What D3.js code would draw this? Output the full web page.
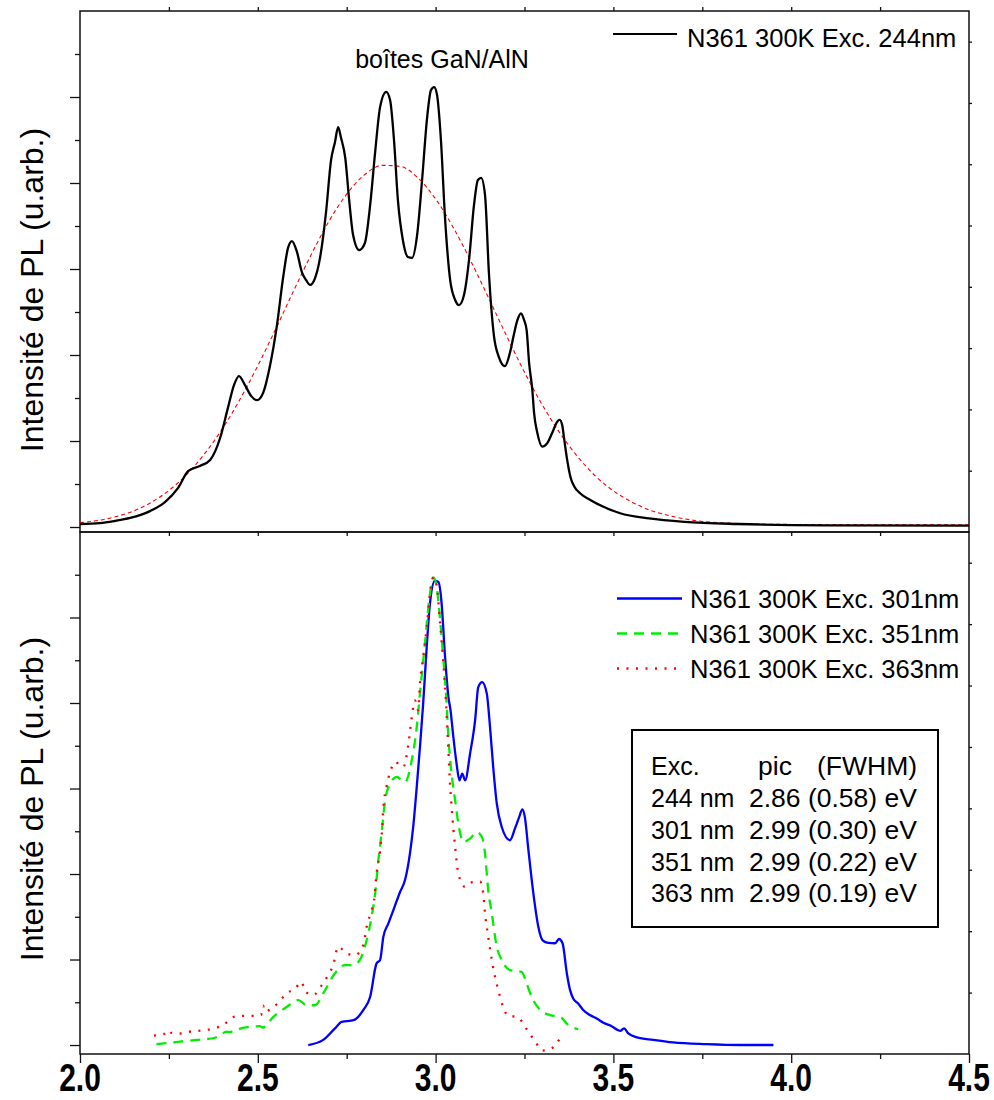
<!DOCTYPE html>
<html><head><meta charset="utf-8">
<script src="https://cdn.jsdelivr.net/npm/d3@7"></script>
<style>
body{margin:0;background:#fff}
svg{display:block}
text{font-family:"Liberation Sans",Arial,sans-serif;fill:#000}
</style>
</head><body>
<svg id="c" width="994" height="1100"></svg>
<script>
// ---------- data ----------
const xTicks = [2.0, 2.5, 3.0, 3.5, 4.0, 4.5];
const xTickLabels = ["2.0", "2.5", "3.0", "3.5", "4.0", "4.5"];
const yAxisLabel = "Intensité de PL (u.arb.)";
const topAnnotation = "boîtes GaN/AlN";
const topLegend = ["N361 300K Exc. 244nm"];
const bottomLegend = ["N361 300K Exc. 301nm", "N361 300K Exc. 351nm", "N361 300K Exc. 363nm"];
const tableHeader = ["Exc.", "pic", "(FWHM)"];
const tableExc = ["244 nm", "301 nm", "351 nm", "363 nm"];
const tablePeak = ["2.86 (0.58) eV", "2.99 (0.30) eV", "2.99 (0.22) eV", "2.99 (0.19) eV"];

// top panel: excitation 244 nm (energy eV, intensity a.u.)
const exc244 = [[2.000,0.07],[2.056,0.09],[2.098,0.14],[2.141,0.21],[2.197,0.37],[2.239,0.58],[2.276,0.91],[2.304,1.30],[2.337,1.42],[2.366,1.56],[2.394,2.07],[2.416,2.77],[2.433,3.30],[2.447,3.51],[2.464,3.30],[2.481,3.05],[2.498,2.95],[2.515,3.12],[2.534,3.74],[2.554,4.70],[2.571,5.79],[2.585,6.49],[2.596,6.65],[2.610,6.40],[2.624,5.93],[2.636,5.74],[2.647,5.63],[2.661,5.79],[2.675,6.26],[2.692,7.33],[2.706,8.53],[2.717,8.95],[2.726,9.30],[2.734,9.05],[2.746,8.58],[2.757,7.60],[2.768,6.79],[2.785,6.44],[2.801,6.60],[2.816,7.49],[2.830,8.72],[2.844,9.77],[2.861,10.12],[2.872,9.93],[2.883,9.00],[2.894,7.60],[2.908,6.67],[2.922,6.28],[2.934,6.26],[2.948,6.79],[2.962,8.07],[2.976,9.51],[2.987,10.16],[2.996,10.23],[3.004,10.05],[3.015,9.00],[3.026,7.26],[3.041,5.74],[3.055,5.28],[3.066,5.16],[3.080,5.40],[3.094,6.21],[3.108,7.49],[3.119,8.07],[3.128,8.12],[3.139,7.72],[3.150,5.90],[3.164,4.45],[3.178,3.95],[3.195,3.74],[3.209,4.05],[3.220,4.47],[3.230,4.81],[3.240,4.97],[3.249,4.81],[3.256,4.58],[3.263,3.81],[3.272,3.19],[3.277,2.65],[3.286,2.19],[3.300,1.87],[3.314,1.95],[3.328,2.19],[3.342,2.45],[3.349,2.49],[3.356,2.37],[3.362,2.02],[3.370,1.56],[3.379,1.17],[3.390,0.94],[3.407,0.78],[3.435,0.63],[3.472,0.47],[3.519,0.32],[3.600,0.20],[3.700,0.12],[3.850,0.07],[4.100,0.04],[4.500,0.03]];

// top panel: gaussian fit drawn in red dashes
const fit244 = [[2.00,0.10],[2.05,0.15],[2.10,0.24],[2.15,0.37],[2.20,0.57],[2.25,0.85],[2.30,1.22],[2.35,1.70],[2.40,2.28],[2.45,2.97],[2.50,3.75],[2.55,4.60],[2.60,5.48],[2.65,6.33],[2.70,7.11],[2.75,7.74],[2.80,8.19],[2.85,8.41],[2.90,8.39],[2.95,8.12],[3.00,7.63],[3.05,6.96],[3.10,6.17],[3.15,5.31],[3.20,4.44],[3.25,3.60],[3.30,2.84],[3.35,2.18],[3.40,1.63],[3.45,1.18],[3.50,0.84],[3.55,0.59],[3.60,0.40],[3.65,0.28],[3.70,0.19],[3.75,0.13],[3.80,0.10],[3.90,0.07],[4.00,0.06],[4.25,0.05],[4.50,0.05]];

// bottom panel
const exc301 = [[2.642,0.00],[2.684,0.12],[2.717,0.39],[2.736,0.54],[2.769,0.58],[2.797,0.82],[2.816,1.13],[2.834,1.91],[2.844,1.99],[2.853,2.53],[2.867,2.84],[2.881,3.15],[2.900,3.58],[2.914,3.86],[2.928,4.49],[2.937,5.10],[2.947,6.04],[2.956,6.97],[2.965,7.98],[2.975,9.31],[2.984,10.32],[2.998,10.86],[3.008,10.83],[3.017,10.32],[3.026,9.15],[3.036,8.14],[3.042,7.83],[3.050,7.20],[3.059,6.58],[3.067,6.19],[3.075,6.35],[3.083,6.19],[3.097,6.82],[3.111,7.59],[3.120,8.37],[3.131,8.49],[3.144,8.22],[3.153,7.44],[3.162,6.50],[3.172,5.65],[3.186,5.10],[3.209,4.79],[3.223,5.06],[3.235,5.33],[3.244,5.51],[3.251,5.33],[3.261,4.56],[3.275,3.54],[3.289,2.76],[3.301,2.45],[3.317,2.39],[3.336,2.38],[3.347,2.48],[3.357,2.38],[3.369,1.68],[3.378,1.29],[3.387,1.09],[3.401,0.97],[3.415,0.82],[3.434,0.70],[3.453,0.62],[3.472,0.52],[3.495,0.44],[3.519,0.33],[3.530,0.39],[3.542,0.27],[3.566,0.18],[3.612,0.12],[3.668,0.06],[3.762,0.02],[3.856,0.00],[3.950,0.00]];

const exc351 = [[2.215,0.02],[2.281,0.08],[2.328,0.12],[2.380,0.17],[2.413,0.31],[2.419,0.30],[2.458,0.40],[2.506,0.44],[2.514,0.41],[2.544,0.66],[2.581,0.89],[2.614,1.05],[2.638,0.93],[2.661,0.93],[2.684,1.21],[2.717,1.68],[2.745,1.87],[2.769,1.87],[2.787,1.99],[2.806,2.45],[2.820,3.00],[2.830,3.54],[2.839,4.32],[2.848,4.95],[2.858,5.72],[2.872,6.11],[2.891,6.27],[2.905,6.19],[2.914,6.15],[2.933,6.66],[2.947,7.44],[2.956,8.22],[2.970,9.39],[2.984,10.55],[2.994,10.94],[3.003,10.71],[3.012,10.01],[3.022,9.00],[3.031,7.98],[3.036,7.20],[3.043,6.50],[3.055,5.72],[3.064,5.18],[3.078,4.75],[3.097,4.83],[3.116,4.98],[3.130,4.87],[3.139,4.48],[3.148,3.62],[3.158,3.08],[3.172,2.30],[3.186,1.99],[3.209,1.75],[3.242,1.71],[3.256,1.44],[3.270,1.13],[3.294,0.82],[3.322,0.70],[3.350,0.66],[3.373,0.47],[3.401,0.37]];

const exc363 = [[2.208,0.22],[2.237,0.26],[2.250,0.35],[2.256,0.29],[2.281,0.27],[2.306,0.31],[2.333,0.33],[2.352,0.35],[2.378,0.39],[2.405,0.48],[2.432,0.66],[2.458,0.68],[2.486,0.68],[2.509,0.70],[2.515,0.92],[2.520,0.78],[2.539,0.86],[2.559,1.00],[2.581,1.21],[2.605,1.32],[2.623,1.48],[2.633,1.25],[2.656,1.17],[2.680,1.40],[2.698,1.64],[2.712,1.87],[2.726,2.30],[2.750,2.14],[2.773,2.10],[2.797,2.34],[2.806,2.76],[2.820,3.15],[2.827,3.39],[2.834,4.01],[2.844,4.56],[2.850,5.10],[2.853,5.53],[2.862,6.04],[2.874,6.43],[2.886,6.62],[2.909,6.50],[2.923,7.01],[2.933,7.67],[2.942,8.06],[2.951,7.83],[2.956,8.45],[2.965,9.07],[2.975,9.77],[2.984,10.55],[2.994,10.94],[3.003,10.75],[3.012,9.93],[3.022,8.92],[3.031,7.75],[3.036,6.89],[3.040,6.19],[3.045,5.57],[3.055,4.63],[3.064,4.01],[3.083,3.70],[3.106,3.82],[3.125,3.82],[3.134,3.54],[3.139,3.08],[3.148,2.53],[3.158,1.99],[3.167,1.60],[3.176,1.29],[3.190,0.89],[3.204,0.68],[3.228,0.66],[3.261,0.31],[3.280,0.08],[3.301,-0.13],[3.326,-0.08],[3.350,0.16]];

// ---------- layout ----------
const L = 80, R = 969;
const topP = {y0: 11, y1: 532};
const botP = {y0: 532, y1: 1054};

const svg = d3.select("#c");
const x = d3.scaleLinear().domain([2, 4.5]).range([L, R]);
const yTop = d3.scaleLinear().domain([-0.116, 12]).range([topP.y1, topP.y0]);
const yBot = d3.scaleLinear().domain([-0.21, 12]).range([botP.y1, botP.y0]);
const yRightTop = d3.scaleLinear().domain([0, 8.5]).range([topP.y1, topP.y0]);
const yRightBot = d3.scaleLinear().domain([0, 8.5]).range([botP.y1, botP.y0]);

const axisColor = "#111";
function styleAxis(g){
  g.select(".domain").remove();
  g.selectAll(".tick line").attr("stroke", axisColor).attr("stroke-width", 1.3);
  g.selectAll(".tick text").remove();
}

const majorY = d3.range(0, 12, 2), minorY = d3.range(1, 12, 2);
[yTop, yBot].forEach(ys => {
  svg.append("g").attr("transform", `translate(${L},0)`)
    .call(d3.axisLeft(ys).tickValues(majorY).tickSize(10).tickFormat("")).call(styleAxis);
  svg.append("g").attr("transform", `translate(${L},0)`)
    .call(d3.axisLeft(ys).tickValues(minorY).tickSize(5).tickFormat("")).call(styleAxis);
});
[yRightTop, yRightBot].forEach(ys => {
  svg.append("g").attr("transform", `translate(${R},0)`)
    .call(d3.axisRight(ys).tickValues(d3.range(1, 9)).tickSize(3).tickFormat("")).call(styleAxis);
});

const quarterTicks = d3.range(2.25, 4.5, 0.25);
svg.append("g").attr("transform", `translate(0,${topP.y0})`)
  .call(d3.axisTop(x).tickValues(quarterTicks).tickSize(4).tickFormat("")).call(styleAxis);
svg.append("g").attr("transform", `translate(0,${topP.y1})`)
  .call(d3.axisBottom(x).tickValues(quarterTicks).tickSize(4).tickFormat("")).call(styleAxis);
svg.append("g").attr("transform", `translate(0,${botP.y1})`)
  .call(d3.axisBottom(x).tickValues(xTicks).tickSize(9).tickFormat("")).call(styleAxis);
svg.append("g").attr("transform", `translate(0,${botP.y1})`)
  .call(d3.axisBottom(x).tickValues(d3.range(2.25, 4.5, 0.5)).tickSize(5).tickFormat("")).call(styleAxis);

// x tick labels (bold, tall & condensed look via vertical stretch)
svg.append("g").selectAll("text").data(xTicks).join("text")
  .attr("transform", d => `translate(${x(d)},1091) scale(1,1.3)`)
  .attr("text-anchor", "middle")
  .attr("font-size", 30).attr("font-weight", "bold")
  .text((d, i) => xTickLabels[i]);

// frames
[topP, botP].forEach(p => {
  svg.append("rect").attr("x", L).attr("y", p.y0).attr("width", R - L).attr("height", p.y1 - p.y0)
    .attr("fill", "none").attr("stroke", axisColor).attr("stroke-width", 1.5);
});

// y labels
[290, 799].forEach(cy => {
  svg.append("text").attr("transform", `translate(43,${cy}) rotate(-90)`)
    .attr("text-anchor", "middle").attr("font-size", 32).text(yAxisLabel);
});

// curves
const lineTop = d3.line().x(d => x(d[0])).y(d => yTop(d[1])).curve(d3.curveMonotoneX);
const lineBot = d3.line().x(d => x(d[0])).y(d => yBot(d[1])).curve(d3.curveMonotoneX);

svg.append("path").datum(fit244).attr("d", lineTop).attr("fill", "none")
  .attr("stroke", "#ff0000").attr("stroke-width", 1.1).attr("stroke-dasharray", "4,3");
svg.append("path").datum(exc244).attr("d", lineTop).attr("fill", "none")
  .attr("stroke", "#000").attr("stroke-width", 2.3).attr("stroke-linejoin", "round");

const botStyles = [
  {data: exc301, color: "#0000ff", dash: null, w: 2.3},
  {data: exc351, color: "#00ee00", dash: "10,7", w: 2.3},
  {data: exc363, color: "#ff0000", dash: "2,7.5", w: 2.3}
];
botStyles.forEach(s => {
  svg.append("path").datum(s.data).attr("d", lineBot).attr("fill", "none")
    .attr("stroke", s.color).attr("stroke-width", s.w).attr("stroke-linejoin", "round")
    .attr("stroke-dasharray", s.dash);
});

// top annotation + legend
svg.append("text").attr("x", 442).attr("y", 68).attr("text-anchor", "middle")
  .attr("font-size", 25).text(topAnnotation);
svg.append("line").attr("x1", 613).attr("x2", 677).attr("y1", 34).attr("y2", 34)
  .attr("stroke", "#000").attr("stroke-width", 2);
svg.append("text").attr("x", 687).attr("y", 46.5).attr("font-size", 25.5).text(topLegend[0]);

// bottom legend
const legY = [608, 643, 678];
botStyles.forEach((s, i) => {
  svg.append("line").attr("x1", 617).attr("x2", 682).attr("y1", legY[i] - 9.5).attr("y2", legY[i] - 9.5)
    .attr("stroke", s.color).attr("stroke-width", 2.3).attr("stroke-dasharray", s.dash);
  svg.append("text").attr("x", 690).attr("y", legY[i]).attr("font-size", 25.5).text(bottomLegend[i]);
});

// table box
svg.append("rect").attr("x", 632).attr("y", 730).attr("width", 306).attr("height", 197)
  .attr("fill", "#fff").attr("stroke", "#000").attr("stroke-width", 2);
const rowY = [775, 807, 839, 871, 902];
const fsL = 25, fsR = 26.5;
svg.append("text").attr("x", 651).attr("y", rowY[0]).attr("font-size", fsL).text(tableHeader[0]);
svg.append("text").attr("x", 758).attr("y", rowY[0]).attr("font-size", fsR).text(tableHeader[1]);
svg.append("text").attr("x", 817).attr("y", rowY[0]).attr("font-size", fsR).text(tableHeader[2]);
tableExc.forEach((t, i) => {
  svg.append("text").attr("x", 651).attr("y", rowY[i + 1]).attr("font-size", fsL).text(t);
  svg.append("text").attr("x", 749).attr("y", rowY[i + 1]).attr("font-size", fsR).text(tablePeak[i]);
});
</script>
</body></html>
